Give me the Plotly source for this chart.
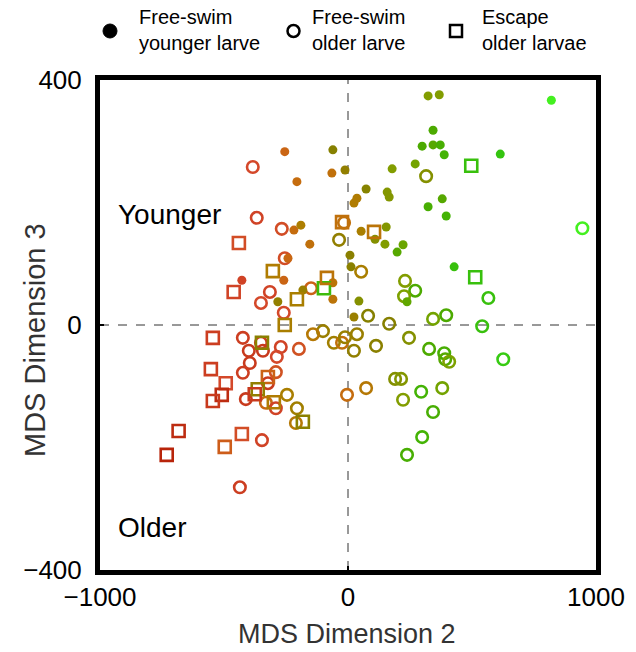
import plotly.graph_objects as go

# Free-swim, younger larvae (filled circles)
young_x = [-255, -206, -65, -61, -12, -218, -190, -154, -242, -428, -259, -182, -283, -61, -61,
           323, 368, 820, 343, 299, 343, 372, 388, 614, 271, 178, 73, 166, 158, 24, 36,
           323, 380, 396, 53, 154, 109, 149, 222, 198, 8, 12, 428, 238, 44, 24]
young_y = [283, 234, 248, 286, 253, 155, 163, 132, 109, 73, 73, 57, 38, 69, 42,
           374, 376, 367, 318, 292, 294, 294, 278, 279, 263, 255, 222, 209, 217, 199, 207,
           193, 206, 178, 153, 160, 140, 132, 131, 119, 114, 95, 95, 38, 39, 13]
young_stage = [0.33, 0.36, 0.38, 0.55, 0.52, 0.36, 0.45, 0.38, 0.34, 0.20, 0.33, 0.50, 0.52, 0.40, 0.40,
               0.64, 0.64, 1.00, 0.76, 0.76, 0.74, 0.78, 0.80, 0.88, 0.68, 0.64, 0.56, 0.62, 0.62, 0.44, 0.44,
               0.78, 0.74, 0.80, 0.46, 0.62, 0.60, 0.64, 0.70, 0.74, 0.54, 0.54, 0.86, 0.72, 0.60, 0.50]

# Free-swim, older larvae (open circles)
old_x = [-384, -368, -267, -255, -315, -351, -259, -149, -36, -16, -101, -141, -57, -24, -12, 36,
         -424, -400, -351, -343, -271, -287, -198, -396, -424, -291, -323, -412, -246, -331, -291,
         -206, -210, -347, -436, -4, 53, 315, 945, 230, 271, 226, 81, 166, 343, 396, 541, 566,
         24, 113, 246, 327, 388, 392, 408, 626, 73, 190, 214, 222, 295, 380, 343, 299, 238]
old_y = [258, 175, 157, 109, 54, 36, 20, 60, 139, 167, -10, -15, -29, -29, -20, -15,
         -21, -42, -29, -42, -36, -52, -39, -62, -78, -77, -95, -121, -114, -127, -136,
         -136, -160, -188, -265, -114, 87, 243, 158, 72, 56, 47, 15, 2, 10, 16, -2, 44,
         -42, -34, -21, -39, -46, -56, -60, -56, -103, -88, -88, -122, -109, -103, -142, -183, -212]
old_stage = [0.22, 0.20, 0.24, 0.24, 0.20, 0.22, 0.22, 0.32, 0.52, 0.38, 0.50, 0.42, 0.48, 0.38, 0.50, 0.50,
             0.18, 0.16, 0.18, 0.16, 0.20, 0.22, 0.26, 0.16, 0.18, 0.26, 0.16, 0.16, 0.46, 0.34, 0.20,
             0.48, 0.42, 0.20, 0.18, 0.36, 0.46, 0.60, 1.00, 0.64, 0.76, 0.66, 0.55, 0.55, 0.68, 0.76, 0.86, 0.86,
             0.52, 0.54, 0.60, 0.76, 0.78, 0.74, 0.66, 0.90, 0.42, 0.60, 0.62, 0.64, 0.80, 0.68, 0.78, 0.80, 0.78]

# Escape, older larvae (open squares)
esc_x = [-440, -461, -303, -206, -97, -85, -24, -255, -545, -347, -553, -493, -509, -545,
         -323, -364, -376, -299, -182, -683, -428, -497, -731, 497, 513, 105]
esc_y = [134, 54, 88, 42, 60, 77, 168, 0, -21, -29, -72, -95, -114, -124,
         -85, -105, -113, -126, -158, -173, -178, -199, -212, 260, 78, 152]
esc_stage = [0.24, 0.20, 0.44, 0.46, 0.84, 0.40, 0.38, 0.46, 0.18, 0.54, 0.18, 0.22, 0.10, 0.16,
             0.32, 0.52, 0.16, 0.44, 0.54, 0.10, 0.24, 0.30, 0.06, 0.86, 0.86, 0.40]

x_ticks = [-1000, 0, 1000]
y_ticks = [-400, 0, 400]

# red (older) through orange and olive to green (younger)
stage_scale = [
    [0.00, "#b01800"], [0.12, "#c03014"], [0.22, "#d4482a"], [0.35, "#c86a10"],
    [0.45, "#ad7e00"], [0.55, "#868000"], [0.65, "#82a000"], [0.76, "#4caa00"],
    [0.88, "#34c410"], [1.00, "#44f020"],
]

FONT = "Liberation Sans, Arial, sans-serif"


def marker(stage, symbol, size, lw):
    return dict(color=stage, colorscale=stage_scale, cmin=0, cmax=1, symbol=symbol,
                size=size, line=dict(width=lw), showscale=False)


fig = go.Figure()
fig.add_trace(go.Scatter(x=old_x, y=old_y, mode="markers",
                         marker=marker(old_stage, "circle-open", 11.5, 2.6)))
fig.add_trace(go.Scatter(x=young_x, y=young_y, mode="markers",
                         marker=marker(young_stage, "circle", 9, 0)))
fig.add_trace(go.Scatter(x=esc_x, y=esc_y, mode="markers",
                         marker=marker(esc_stage, "square-open", 12, 2.6)))

# dashed origin cross
fig.add_shape(type="line", x0=0, x1=0, y0=0, y1=1, xref="x", yref="paper",
              line=dict(color="#333", width=1, dash="dash"), layer="below")
fig.add_shape(type="line", x0=0, x1=1, y0=0, y1=0, xref="paper", yref="y",
              line=dict(color="#333", width=1, dash="dash"), layer="below")


def px_x(p):
    return (p - 100) / 496


def px_y(p):
    return (570 - p) / 490


fig.add_annotation(x=px_x(116), y=180, xref="paper", yref="y", text="Younger",
                   showarrow=False, xanchor="left", yanchor="middle",
                   font=dict(family=FONT, size=28, color="black"))
fig.add_annotation(x=px_x(116), y=-330, xref="paper", yref="y", text="Older",
                   showarrow=False, xanchor="left", yanchor="middle",
                   font=dict(family=FONT, size=28, color="black"))

# axis titles
fig.add_annotation(x=px_x(347), y=px_y(634), xref="paper", yref="paper",
                   text="MDS Dimension 2", showarrow=False,
                   xanchor="center", yanchor="middle",
                   font=dict(family=FONT, size=27, color="#333"))
fig.add_annotation(x=px_x(35), y=px_y(340), xref="paper", yref="paper",
                   text="MDS Dimension 3", textangle=-90, showarrow=False,
                   xanchor="center", yanchor="middle",
                   font=dict(family=FONT, size=29, color="#333"))

# legend row above the axes
legend_items = [
    ("Free-swim<br>younger larve", 137),
    ("Free-swim<br>older larve", 310),
    ("Escape<br>older larvae", 480),
]
fig.add_shape(type="circle", xref="paper", yref="paper",
              x0=px_x(103), x1=px_x(117), y0=px_y(38), y1=px_y(24),
              fillcolor="black", line=dict(color="black", width=1))
fig.add_shape(type="circle", xref="paper", yref="paper",
              x0=px_x(287.5), x1=px_x(299.5), y0=px_y(37), y1=px_y(25),
              line=dict(color="black", width=2.5))
fig.add_shape(type="rect", xref="paper", yref="paper",
              x0=px_x(450), x1=px_x(462), y0=px_y(37), y1=px_y(25),
              line=dict(color="black", width=2.5))
for label, tx in legend_items:
    fig.add_annotation(x=px_x(tx), y=px_y(30), xref="paper", yref="paper",
                       text=label, showarrow=False, xanchor="left", yanchor="middle",
                       align="left", font=dict(family=FONT, size=20, color="black"))

axis_common = dict(showline=True, mirror=True, linewidth=5, linecolor="black",
                   showgrid=False, zeroline=False, ticks="inside", ticklen=4,
                   tickwidth=2, tickcolor="black", automargin=False,
                   tickfont=dict(family=FONT, size=26, color="black"))

fig.update_layout(
    width=636, height=652,
    margin=dict(l=100, r=40, t=80, b=82, autoexpand=False),
    paper_bgcolor="white", plot_bgcolor="white",
    showlegend=False,
    xaxis=dict(range=[-1000, 1000], tickvals=x_ticks, ticklabelstandoff=0,
               **axis_common),
    yaxis=dict(range=[-400, 400], tickvals=y_ticks, ticklabelstandoff=8,
               **axis_common),
)

fig.write_html("out.html")
